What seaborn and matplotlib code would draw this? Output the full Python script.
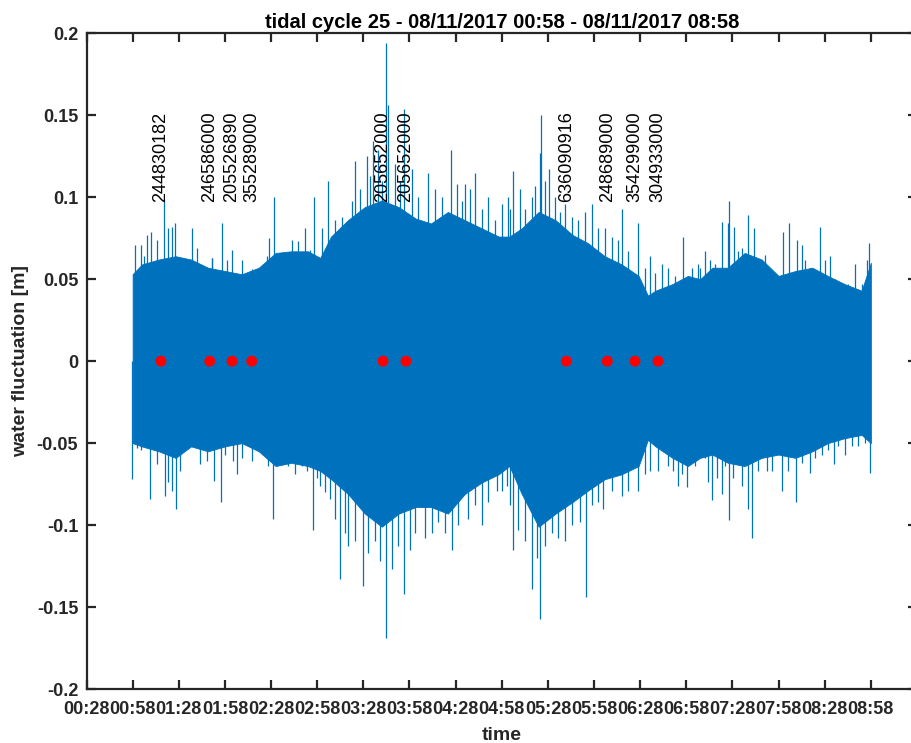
import numpy as np
import pandas as pd
import matplotlib
matplotlib.use("Agg")
import matplotlib.pyplot as plt
import seaborn as sns

# ---------------- data ----------------
title = "tidal cycle 25 - 08/11/2017 00:58 - 08/11/2017 08:58"
xtick_labels = ["00:28", "00:58", "01:28", "01:58", "02:28", "02:58", "03:28", "03:58",
                "04:28", "04:58", "05:28", "05:58", "06:28", "06:58", "07:28", "07:58",
                "08:28", "08:58"]
ytick_values = [-0.2, -0.15, -0.1, -0.05, 0, 0.05, 0.1, 0.15, 0.2]
ytick_labels = ["-0.2", "-0.15", "-0.1", "-0.05", "0", "0.05", "0.1", "0.15", "0.2"]

# dense-signal envelope (minutes since midnight, metres)
core_t = [58, 64, 75, 86, 96, 107, 118, 129, 140, 151, 161, 172, 180,
          187, 198, 209, 220, 231, 242, 252, 263, 274, 285, 296, 303,
          311, 322, 333, 344, 354, 365, 376, 387, 393, 398, 409, 419, 427,
          435, 445, 456, 467, 478, 489, 500, 510, 521, 532, 538]
core_hi = [0.053, 0.059, 0.062, 0.064, 0.062, 0.057, 0.055, 0.053, 0.057, 0.066, 0.067, 0.067, 0.063,
           0.076, 0.086, 0.094, 0.098, 0.094, 0.087, 0.084, 0.091, 0.086, 0.081, 0.076, 0.076,
           0.081, 0.091, 0.086, 0.077, 0.072, 0.064, 0.059, 0.052, 0.040, 0.043, 0.047, 0.052, 0.050,
           0.057, 0.057, 0.066, 0.062, 0.052, 0.055, 0.057, 0.052, 0.047, 0.043, 0.060]
core_lo = [-0.050, -0.052, -0.055, -0.059, -0.052, -0.055, -0.052, -0.050, -0.055, -0.064, -0.062, -0.064, -0.067,
           -0.072, -0.081, -0.093, -0.101, -0.093, -0.089, -0.089, -0.093, -0.081, -0.074, -0.069, -0.064,
           -0.081, -0.101, -0.093, -0.086, -0.079, -0.072, -0.069, -0.064, -0.048, -0.052, -0.059, -0.064, -0.059,
           -0.057, -0.062, -0.064, -0.059, -0.057, -0.059, -0.055, -0.050, -0.047, -0.045, -0.050]

# tallest individual spikes
spike_up_t = [59.5, 67.1, 69.9, 78.6, 85.5, 96.4, 109.4, 115.9, 146.7, 150.1, 170.1, 176.1,
              185.2, 202.6, 210.2, 214.5, 222.7, 223.8, 234.4, 250.3, 265.0, 274.1, 280.6, 289.3, 302.3,
              305.5, 317.4, 322.9, 323.5, 328.7, 339.1, 352.1, 365.1, 376.0, 386.4, 394.4, 416.1,
              430.2, 441.0, 444.9, 446.0, 449.2, 457.9, 462.2, 469.2, 481.1, 485.0, 489.8, 504.9, 527.7, 536.8]
spike_up_v = [0.071, 0.077, 0.079, 0.099, 0.084, 0.081, 0.063, 0.084, 0.075, 0.100, 0.081, 0.100,
              0.110, 0.122, 0.125, 0.134, 0.194, 0.156, 0.154, 0.115, 0.129, 0.108, 0.115, 0.100, 0.100,
              0.116, 0.100, 0.127, 0.150, 0.117, 0.096, 0.091, 0.081, 0.093, 0.084, 0.064, 0.076,
              0.067, 0.085, 0.084, 0.098, 0.082, 0.089, 0.081, 0.065, 0.079, 0.084, 0.074, 0.082, 0.059, 0.072]
spike_dn_t = [57.4, 69.3, 79.0, 86.0, 110.7, 115.2, 125.6, 149.5, 175.0,
              183.1, 192.8, 198.2, 208.0, 222.7, 226.4, 234.7, 248.1, 265.4, 285.0, 298.0,
              305.5, 317.9, 322.9, 339.1, 352.8, 364.0, 376.0, 386.8, 394.4, 412.8, 418.2,
              434.9, 441.0, 445.8, 458.3, 460.9, 480.4, 489.1, 498.4, 514.2, 521.2, 537.4]
spike_dn_v = [-0.072, -0.084, -0.082, -0.090, -0.073, -0.086, -0.069, -0.096, -0.103,
              -0.080, -0.133, -0.113, -0.137, -0.169, -0.127, -0.142, -0.108, -0.115, -0.100, -0.079,
              -0.115, -0.139, -0.157, -0.110, -0.144, -0.090, -0.082, -0.079, -0.067, -0.076, -0.077,
              -0.085, -0.081, -0.097, -0.090, -0.108, -0.079, -0.086, -0.068, -0.063, -0.057, -0.068]

# smaller spikes forming the ragged fringe of the band
fringe_up_t = [63.4, 65.6, 73.6, 80.8, 83.4, 91.0, 99.6, 102.9, 106.1, 109.8, 119.1, 122.8, 128.9,
               135.4, 141.9, 145.1, 152.7, 156.6, 161.4, 165.7, 173.3, 178.7,
               180.9, 189.6, 193.9, 200.4, 205.8, 212.3, 217.7, 219.9, 228.6, 231.8, 239.4, 243.8,
               254.6, 258.9, 268.7, 271.9, 277.3, 284.9, 293.6, 297.9,
               303.4, 309.9, 313.1, 319.6, 326.1, 332.6, 335.9, 343.5, 347.8, 356.5, 360.8, 369.5,
               373.8, 380.3, 391.1, 397.6, 402.0, 406.3, 410.6, 421.5, 425.8,
               426.9, 433.4, 436.7, 451.8, 454.0, 464.8, 473.5, 477.8, 493.0, 495.2, 498.4, 501.7,
               508.2, 511.4, 514.7, 519.0, 523.3, 532.0, 535.3]
fringe_up_v = [0.071, 0.064, 0.074, 0.081, 0.082, 0.063, 0.069, 0.052, 0.057, 0.063, 0.062, 0.068, 0.062,
               0.056, 0.057, 0.064, 0.064, 0.059, 0.074, 0.073, 0.068, 0.063,
               0.081, 0.086, 0.088, 0.098, 0.105, 0.113, 0.129, 0.110, 0.120, 0.110, 0.117, 0.100,
               0.105, 0.100, 0.108, 0.098, 0.105, 0.093, 0.086, 0.096,
               0.093, 0.105, 0.093, 0.107, 0.110, 0.100, 0.091, 0.088, 0.086, 0.096, 0.081, 0.076,
               0.074, 0.067, 0.057, 0.054, 0.059, 0.057, 0.052, 0.057, 0.059,
               0.057, 0.062, 0.059, 0.067, 0.069, 0.059, 0.052, 0.052, 0.071, 0.062, 0.057, 0.047,
               0.062, 0.064, 0.050, 0.047, 0.047, 0.047, 0.062]
fringe_dn_t = [60.6, 63.4, 73.6, 81.2, 83.4, 88.8, 96.4, 101.8, 106.1, 118.1, 123.5, 129.3,
               135.4, 141.9, 146.2, 153.8, 159.2, 163.6, 167.9, 171.1, 177.6,
               179.8, 186.3, 189.6, 196.1, 202.6, 211.2, 215.6, 218.8, 230.8, 238.3, 241.6, 252.4,
               256.8, 261.1, 269.8, 276.3, 280.6, 289.3, 294.7, 301.2,
               303.4, 308.8, 313.1, 320.7, 326.1, 330.5, 334.8, 343.5, 348.9, 356.5, 360.8, 369.5,
               373.8, 380.3, 391.1, 399.8, 406.3, 409.6, 415.0, 423.6,
               426.9, 430.2, 432.3, 437.7, 443.2, 448.6, 451.8, 454.0, 464.8, 470.2, 473.5, 484.3,
               493.0, 501.7, 506.0, 510.3, 516.8, 525.5, 529.8, 534.2]
fringe_dn_v = [-0.053, -0.054, -0.063, -0.074, -0.079, -0.067, -0.052, -0.063, -0.061, -0.057, -0.061, -0.059,
               -0.061, -0.054, -0.064, -0.062, -0.064, -0.069, -0.064, -0.067, -0.071,
               -0.076, -0.084, -0.096, -0.105, -0.110, -0.117, -0.110, -0.122, -0.113, -0.115, -0.105, -0.105,
               -0.098, -0.105, -0.100, -0.096, -0.088, -0.086, -0.079, -0.076,
               -0.088, -0.103, -0.110, -0.120, -0.113, -0.105, -0.108, -0.100, -0.098, -0.088, -0.086, -0.079,
               -0.067, -0.079, -0.069, -0.067, -0.064, -0.067, -0.069, -0.064,
               -0.054, -0.059, -0.074, -0.071, -0.064, -0.071, -0.062, -0.076, -0.067, -0.067, -0.067, -0.067,
               -0.062, -0.059, -0.057, -0.054, -0.052, -0.052, -0.052, -0.050]

# vessel markers
dot_t = [76.4, 108.1, 122.6, 135.4, 220.8, 235.7, 340.0, 366.6, 384.6, 399.6]
dot_v = [0, 0, 0, 0, 0, 0, 0, 0, 0, 0]
dot_labels = ["244830182", "246586000", "205526890", "355289000", "205652000",
              "205652000", "636090916", "248689000", "354299000", "304933000"]

# ---------------- style ----------------
BLUE = "#0072BD"
AXC = "#262626"
sns.set_theme(style="white")
plt.rcParams["font.family"] = ["Liberation Sans", "DejaVu Sans"]

fig = plt.figure(figsize=(9.11, 7.43), dpi=100)
ax = fig.add_axes([86.5 / 911, 1 - 689 / 743, 830.5 / 911, 655.7 / 743])

# dense band: min-max band of the envelope points
df_core = pd.DataFrame({"t": core_t + core_t, "v": core_hi + core_lo})
sns.lineplot(data=df_core, x="t", y="v", estimator="mean", errorbar=("pi", 100),
             color=BLUE, linewidth=0, err_kws={"alpha": 1, "linewidth": 0.6, "edgecolor": BLUE},
             ax=ax, legend=False)

# needles
ax.vlines(fringe_up_t, 0, fringe_up_v, color=BLUE, linewidth=0.9)
ax.vlines(fringe_dn_t, 0, fringe_dn_v, color=BLUE, linewidth=0.9)
ax.vlines(spike_up_t, 0, spike_up_v, color=BLUE, linewidth=0.9)
ax.vlines(spike_dn_t, 0, spike_dn_v, color=BLUE, linewidth=0.9)

# markers
sns.scatterplot(x=dot_t, y=dot_v, color="#FF0000", s=62, edgecolor="none", ax=ax, zorder=5)
for t, lab in zip(dot_t, dot_labels):
    ax.text(t, 0.097, lab, rotation=90, rotation_mode="anchor", ha="left", va="center",
            fontsize=13, color="black", zorder=6)

# axes
xt = [int(s[:2]) * 60 + int(s[3:]) for s in xtick_labels]
ax.set_xlim(28, 568)
ax.set_ylim(-0.2, 0.2)
ax.set_xticks(xt)
ax.set_xticklabels(xtick_labels)
ax.set_yticks(ytick_values)
ax.set_yticklabels(ytick_labels)
for s in ax.spines.values():
    s.set_visible(True)
    s.set_linewidth(1.6)
    s.set_color(AXC)
ax.tick_params(axis="both", which="major", direction="in", length=6.5, width=1.6,
               color=AXC, labelcolor=AXC, labelsize=13, top=True, right=True,
               bottom=True, left=True)
ax.tick_params(axis="x", pad=8.5)
ax.tick_params(axis="y", pad=6)
for lab in ax.get_xticklabels() + ax.get_yticklabels():
    lab.set_fontweight("bold")

ax.set_title(title, fontsize=14.5, fontweight="bold", color="black", pad=4)
ax.set_xlabel("time", fontsize=14, fontweight="bold", color=AXC)
ax.set_ylabel("water fluctuation [m]", fontsize=14, fontweight="bold", color=AXC)
ax.xaxis.set_label_coords(0.5, -0.058)
ax.yaxis.set_label_coords(-0.069, 0.5)

fig.savefig("out.png", dpi=100)
